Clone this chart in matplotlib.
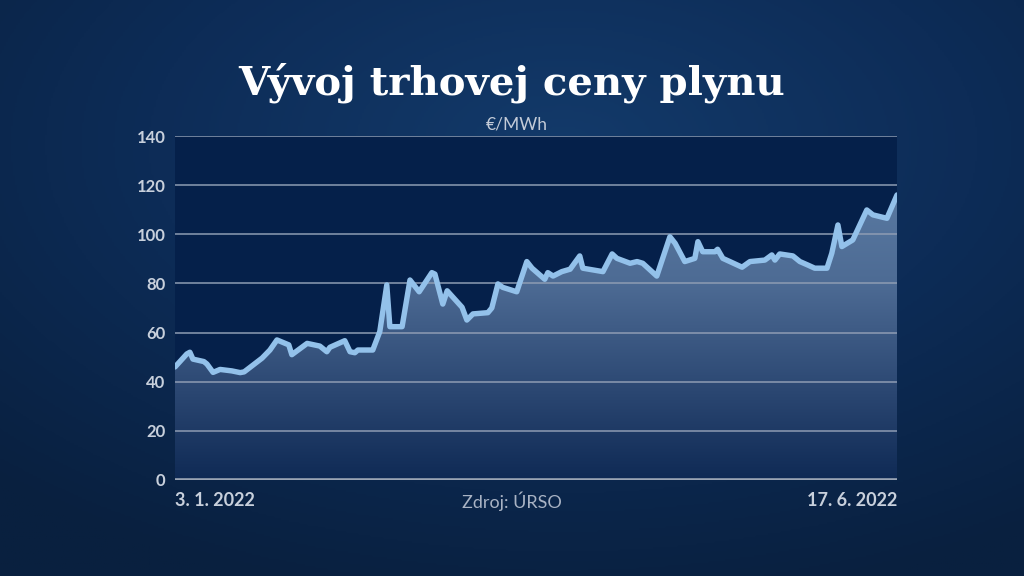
import numpy as np
import matplotlib
matplotlib.use("Agg")
import matplotlib.pyplot as plt
from matplotlib.colors import LinearSegmentedColormap
from matplotlib.patches import Polygon

# ---- data (days since 3. 1. 2022, price in EUR/MWh) ----
days = [0.0, 2.7, 3.4, 4.1, 6.6, 7.3, 8.7, 10.3, 13.0, 14.9, 15.8, 19.9, 21.7, 23.3,
        26.0, 26.7, 30.2, 33.1, 34.7, 35.4, 38.8, 40.0, 41.1, 41.8, 45.2, 46.8, 48.4,
        49.1, 51.9, 53.7, 55.8, 58.7, 59.4, 61.2, 62.2, 65.6, 66.7, 68.1, 71.5, 72.4,
        73.8, 74.9, 78.1, 80.4, 81.6, 84.5, 85.2, 86.4, 88.4, 90.3, 92.5, 93.2, 97.8,
        99.9, 101.0, 104.0, 105.6, 106.9, 110.1, 113.1, 114.3, 116.5, 118.8, 119.5,
        120.6, 123.4, 124.0, 125.2, 126.8, 129.6, 131.4, 134.8, 136.4, 137.1, 138.2,
        141.2, 142.8, 144.6, 146.2, 149.0, 150.1, 151.5, 152.4, 154.9, 158.1, 159.5,
        162.7, 165.0]
prices = [46, 51.3, 52, 49.2, 48.2, 47.2, 43.8, 45, 44.4, 43.7, 44, 49.6, 52.9, 57,
          55, 51, 55.6, 54.5, 52.2, 54, 56.7, 52.2, 51.8, 52.9, 52.9, 60.4, 79.4,
          62.4, 62.4, 81.4, 76.6, 84.4, 83.8, 71.6, 77, 70.3, 65.1, 67.6, 68.1, 70,
          79.8, 78.4, 76.6, 88.9, 86.2, 81.7, 84.4, 83, 84.8, 85.8, 91.2, 86.2, 84.8,
          92, 90.2, 88.2, 88.9, 88.2, 83, 99, 96.3, 88.9, 90.2, 97, 92.9, 92.9, 93.9,
          90.2, 88.9, 86.6, 88.9, 89.5, 91.6, 89.5, 92, 91.2, 88.9, 87.5, 86.2, 86.2,
          92.3, 103.8, 95, 97.7, 109.9, 107.9, 106.5, 116]
y_ticks = [0, 20, 40, 60, 80, 100, 120, 140]
title = "Vývoj trhovej ceny plynu"
unit = "€/MWh"
start_label = "3. 1. 2022"
end_label = "17. 6. 2022"
source = "Zdroj: ÚRSO"

fig = plt.figure(figsize=(10.24, 5.76), dpi=100)

# background radial gradient
bg = fig.add_axes([0, 0, 1, 1], zorder=0)
bg.axis("off")
yy, xx = np.mgrid[0:1:300j, 0:1:500j]
r = np.sqrt(((xx - 0.55) / 0.9) ** 2 + ((yy - 0.75) / 0.9) ** 2)
bg_cmap = LinearSegmentedColormap.from_list("bg", ["#133a6a", "#0d2c57", "#09203f"])
bg.imshow(r, cmap=bg_cmap, aspect="auto", extent=[0, 1, 0, 1], origin="lower",
          vmin=0, vmax=0.9)
bg.set_xlim(0, 1)
bg.set_ylim(0, 1)

ax = fig.add_axes([175 / 1024, 1 - 480 / 576, 722 / 1024, 344 / 576], zorder=1)
ax.set_facecolor("#05204a")
x = np.array(days)
y = np.array(prices)
ax.set_xlim(0, 165)
ax.set_ylim(0, 140)

# gradient fill under the line
fill_cmap = LinearSegmentedColormap.from_list("fill", ["#0f2a55", "#2e4a75", "#4d6b94", "#5a7aa2"])
grad = np.linspace(0, 1, 256).reshape(-1, 1)
im = ax.imshow(grad, cmap=fill_cmap, aspect="auto", extent=[0, 165, 0, 120],
               origin="lower", zorder=1, vmin=0, vmax=1)
verts = np.vstack([[x[0], 0], np.column_stack([x, y]), [x[-1], 0]])
poly = Polygon(verts, closed=True, facecolor="none", edgecolor="none")
ax.add_patch(poly)
im.set_clip_path(poly)

for t in y_ticks[1:]:
    ax.axhline(t, color="#8e9cb3", lw=1.1, zorder=2)
ax.axhline(0, color="#9aa4b4", lw=2.6, zorder=4)

ax.plot(x, y, color="#93c1ea", lw=3.9, solid_joinstyle="round",
        solid_capstyle="round", zorder=5)

ax.set_yticks(y_ticks)
ax.set_xticks([])
ax.tick_params(axis="y", length=0, pad=7, labelsize=12, labelcolor="#c8d0dc")
for lbl in ax.get_yticklabels():
    lbl.set_fontfamily("Lato")
    lbl.set_fontweight("bold")
for s in ax.spines.values():
    s.set_visible(False)

fig.text(0.5, 0.856, title, ha="center", va="center", color="white",
         fontsize=29, fontweight="bold", family="DejaVu Serif")
fig.text(0.505, 0.783, unit, ha="center", va="center", color="#c3cbd8",
         fontsize=12.5, family="Lato")
fig.text(175 / 1024, 1 - 501 / 576, start_label, ha="left", va="center",
         color="#c8d0dc", fontsize=13, fontweight="bold", family="Lato")
fig.text(897 / 1024, 1 - 501 / 576, end_label, ha="right", va="center",
         color="#c8d0dc", fontsize=13, fontweight="bold", family="Lato")
fig.text(0.5, 1 - 501 / 576, source, ha="center", va="center",
         color="#a9b3c4", fontsize=13, family="Lato")

fig.savefig("out.png", dpi=100)
